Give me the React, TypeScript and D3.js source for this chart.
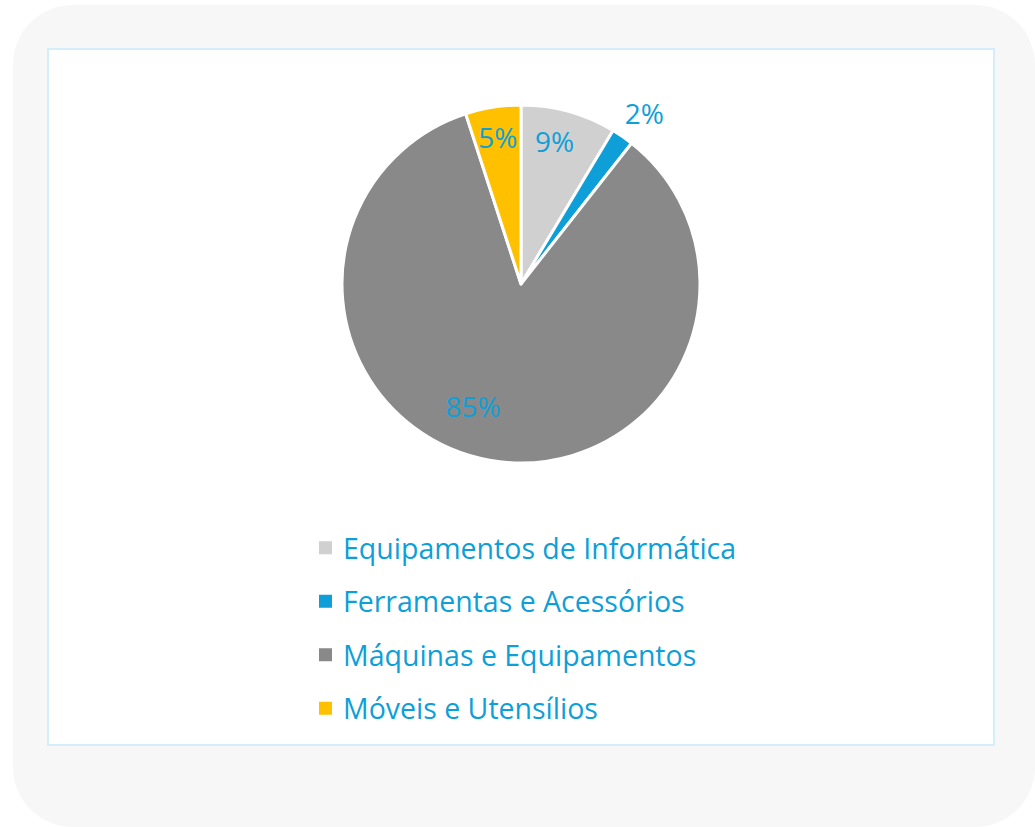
import React from "react";
import * as d3 from "d3";

const categories = [
  "Equipamentos de Informática",
  "Ferramentas e Acessórios",
  "Máquinas e Equipamentos",
  "Móveis e Utensílios",
];
const values = [8.6, 2.0, 84.4, 5.0];
const colors = ["#d0d0d0", "#0e9fd8", "#898989", "#ffc000"];
const labelTexts = ["9%", "2%", "85%", "5%"];

const W = 1035;
const H = 827;
const TEXT = "#0e9fd8";
const FONT = "'Open Sans', sans-serif";

export default function App() {
  const cx = 521;
  const cy = 284;
  const r = 179;
  const pie = d3.pie<number>().sort(null).value((d) => d);
  const arcs = pie(values);
  const arc = d3.arc<d3.PieArcDatum<number>>().innerRadius(0).outerRadius(r);
  const labelRadius = [0.82, 1.18, 0.73, 0.83];
  const labelAngleShift = [-0.04, 0.02, 0.2, 0];

  const legendY = d3.scaleBand<number>().domain(d3.range(categories.length)).range([521, 735]);

  return (
    <svg width={W} height={H} style={{ position: "absolute", left: 0, top: 0 }}>
      <rect x={13} y={5} width={1022} height={822} rx={60} ry={60} fill="#f7f7f7" />
      <rect x={48} y={49} width={946} height={696} fill="#ffffff" stroke="#d5effa" strokeWidth={2} />
      <g transform={`translate(${cx},${cy})`}>
        {arcs.map((a, i) => (
          <path key={i} d={arc(a) || ""} fill={colors[i]} stroke="#ffffff" strokeWidth={3} strokeLinejoin="round" />
        ))}
        {arcs.map((a, i) => {
          const mid = (a.startAngle + a.endAngle) / 2 + labelAngleShift[i];
          const rr = r * labelRadius[i];
          const x = Math.sin(mid) * rr;
          const y = -Math.cos(mid) * rr;
          return (
            <text key={i} x={x} y={y} textAnchor="middle" dominantBaseline="central" fill={TEXT}
              fontFamily={FONT} fontSize={28}>
              {labelTexts[i]}
            </text>
          );
        })}
      </g>
      {categories.map((c, i) => {
        const y = (legendY(i) as number) + legendY.bandwidth() / 2;
        return (
          <g key={c}>
            <rect x={319} y={y - 6.5} width={13} height={13} fill={colors[i]} />
            <text x={343} y={y} dominantBaseline="central" fill={TEXT} fontFamily={FONT} fontSize={28.5}>
              {c}
            </text>
          </g>
        );
      })}
    </svg>
  );
}
